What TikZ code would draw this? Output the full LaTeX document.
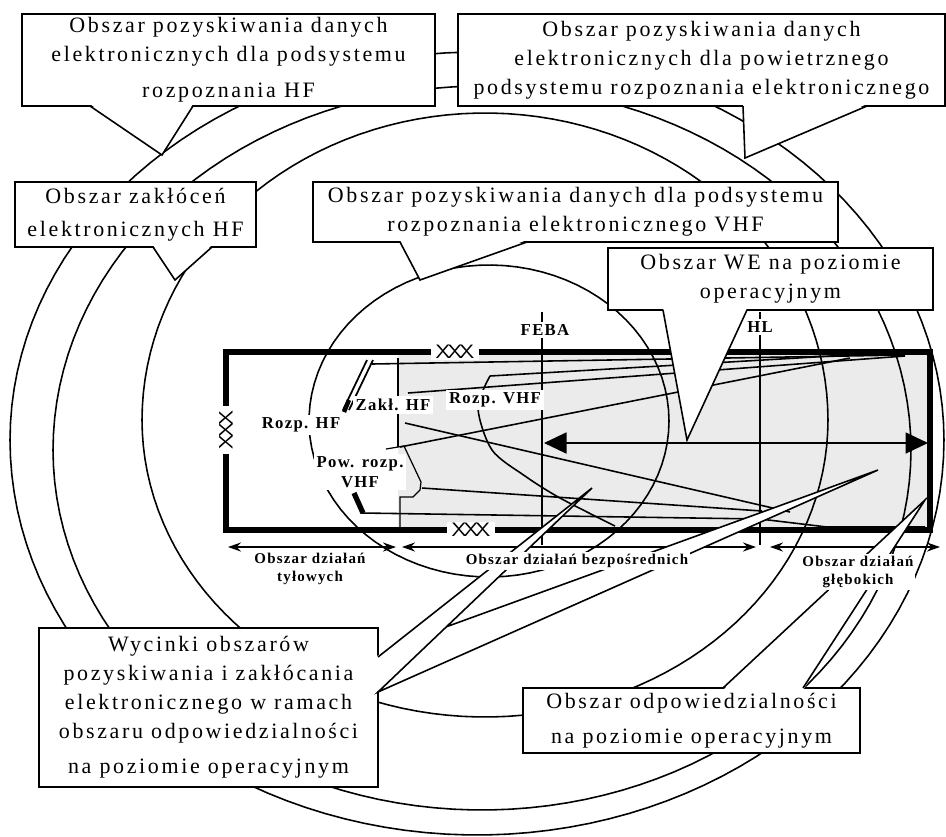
\documentclass[tikz,border=0pt]{standalone}
\usepackage{fontspec}
\setmainfont{Liberation Serif}
\newfontfamily\boxfont[LetterSpace=12]{Liberation Serif}
\newfontfamily\tagfont[LetterSpace=8]{Liberation Serif}
\usetikzlibrary{arrows.meta,calc}

\begin{document}
\begin{tikzpicture}[x=0.2mm,y=-0.2mm,
    arc/.style={line width=0.9pt},
    wedge/.style={line width=0.9pt},
    border/.style={line width=3.4pt},
    areabox/.style={draw,line width=0.9pt,fill=white,inner sep=0pt,outer sep=0pt,
      align=center,font=\boxfont\fontsize{12.5}{16.5}\selectfont},
    tag/.style={fill=white,inner sep=1.5pt,align=center,
      font=\tagfont\bfseries\fontsize{9.5}{11}\selectfont},
    zone/.style={fill=white,inner sep=1pt,align=center,
      font=\tagfont\bfseries\fontsize{8.5}{10.5}\selectfont},
    gap/.style={fill=white,inner xsep=2.5pt,inner ysep=1pt,font=\sffamily\fontsize{11}{11}\selectfont},
    span/.style={line width=1pt,{Stealth[length=2.6mm,width=1.8mm]}-{Stealth[length=2.6mm,width=1.8mm]}},
    reach/.style={line width=1pt,{Triangle[length=4.5mm,width=4.2mm]}-{Triangle[length=4.5mm,width=4.2mm]}}]
    \useasboundingbox (0,0) rectangle (946,836);

    % Shaded part of the operational area
    \fill[black!8] (398,352) rectangle (930,530);

    % Areas of the subsystems
    \draw[arc] plot[domain=0:180,samples=72] ({477+467*cos(\x)},{440-388*sin(\x)})
      -- plot[domain=180:360,samples=72] ({477+467*cos(\x)},{440-395*sin(\x)}) -- cycle;
    \draw[arc] plot[domain=0:180,samples=72] ({482+429*cos(\x)},{450-364*sin(\x)})
      -- plot[domain=180:360,samples=72] ({482+429*cos(\x)},{450-360*sin(\x)}) -- cycle;
    \draw[arc] plot[domain=0:180,samples=72] ({485+343*cos(\x)},{420-307*sin(\x)})
      -- plot[domain=180:360,samples=72] ({485+343*cos(\x)},{420-297*sin(\x)}) -- cycle;
    \draw[arc] plot[domain=0:360,samples=90] ({489+180*cos(\x)},{421-156*sin(\x)});

    % Sectors from the sensors
    \draw[wedge] (372,364) -- (905,355);
    \draw[wedge] (408,393) -- (905,356);
    \draw[wedge] (400,447) -- (850,358);
    \draw[wedge] (405,423) -- (790,512);
    \draw[wedge] (422,488) -- (762,511);
    \draw[wedge] (362,513) -- (760,519) -- (827,527) -- (925,527);
    \draw[wedge] (490,376) -- (900,352);
    \draw[wedge] plot[smooth] coordinates {(490,376) (478,408) (492,450) (525,476) (560,498) (615,526)};

    % Boundary of the rear area
    \draw[line width=0.7pt] (398,358) -- (398,447);
    \draw[line width=0.7pt] (386,449) -- (404,446) -- (421,482) -- (420,490) -- (413,497) -- (400,497) -- (400,529);

    % FEBA and HL
    \draw[line width=0.8pt] (542,312) -- (542,545);
    \draw[line width=0.8pt] (760,312) -- (760,545);

    % Operational area
    \draw[border] (226,352) rectangle (930,530);

    % Sensors
    \draw[line width=1pt] (367,360) -- (343,410);
    \draw[line width=1pt] (373,360) -- (349,410);
    \draw[line width=2.5pt] (349,400) -- (344,412);
    \draw[line width=3pt] (354,493) -- (363,513);

    % Range of EW
    \draw[reach] (544,443) -- (928,443);

    % Depth of the zones
    \draw[span] (228,547) -- (396,547);
    \draw[span] (402,547) -- (756,547);
    \draw[span] (770,547) -- (940,547);

    % Callout boxes
    \node[areabox,minimum width=82.6mm,minimum height=18.4mm] (hfbox) at (228.5,60)
      {Obszar pozyskiwania danych\\elektronicznych dla podsystemu\\[4pt]rozpoznania HF};
    \node[areabox,minimum width=97.4mm,minimum height=18.4mm] (airbox) at (701.5,60)
      {Obszar pozyskiwania danych\\elektronicznych dla powietrznego\\podsystemu rozpoznania elektronicznego};
    \node[areabox,minimum width=48.2mm,minimum height=13mm] (jambox) at (135.5,214.5)
      {Obszar zakłóceń\\[2pt]elektronicznych HF};
    \node[areabox,minimum width=105mm,minimum height=12mm] (vhfbox) at (575.5,212)
      {Obszar pozyskiwania danych dla podsystemu\\rozpoznania elektronicznego VHF};
    \node[areabox,minimum width=65mm,minimum height=12.4mm] (webox) at (770.5,279)
      {Obszar WE na poziomie\\operacyjnym};
    \node[areabox,minimum width=67.8mm,minimum height=31.8mm] (secbox) at (208.5,707.5)
      {Wycinki obszarów\\pozyskiwania i zakłócania\\elektronicznego w ramach\\obszaru odpowiedzialności\\[3.5pt]na poziomie operacyjnym};
    \node[areabox,minimum width=67.4mm,minimum height=13mm] (respbox) at (691.5,720.5)
      {Obszar odpowiedzialności\\[3.5pt]na poziomie operacyjnym};

    % Pointers of the boxes
    \coordinate (hftip) at (162,155);
    \fill[white] ($(hfbox.south west)+(68,-2)$) -- (hftip) -- ($(hfbox.south west)+(171,-2)$) -- cycle;
    \draw[arc] ($(hfbox.south west)+(68,0)$) -- (hftip) -- ($(hfbox.south west)+(171,0)$);

    \coordinate (jamtip) at (175,280);
    \fill[white] ($(jambox.south west)+(138,-2)$) -- (jamtip) -- ($(jambox.south west)+(197,-2)$) -- cycle;
    \draw[arc] ($(jambox.south west)+(138,0)$) -- (jamtip) -- ($(jambox.south west)+(197,0)$);

    \coordinate (vhftip) at (420,280);
    \fill[white] ($(vhfbox.south west)+(87,-2)$) -- (vhftip) -- ($(vhfbox.south west)+(214,-2)$) -- cycle;
    \draw[arc] ($(vhfbox.south west)+(87,0)$) -- (vhftip) -- ($(vhfbox.south west)+(214,0)$);

    \coordinate (airtip) at (745,158);
    \fill[white] ($(airbox.south west)+(285,-2)$) -- (airtip) -- ($(airbox.south west)+(409,-2)$) -- cycle;
    \draw[arc] ($(airbox.south west)+(285,0)$) -- (airtip) -- ($(airbox.south west)+(409,0)$);

    \coordinate (wetip) at (687,440);
    \fill[white] ($(webox.south west)+(55,-2)$) -- (wetip) -- ($(webox.south west)+(139,-2)$) -- cycle;
    \draw[arc] ($(webox.south west)+(55,0)$) -- (wetip) -- ($(webox.south west)+(139,0)$);

    \coordinate (sectip) at (592,488);
    \coordinate (sliver) at (878,470);
    \coordinate (secA) at ($(secbox.north east)+(0,29)$);
    \coordinate (secB) at ($(secbox.north east)+(0,64)$);
    \coordinate (secC) at ($(secB)!0.32!(sectip)$);
    \fill[white] ($(secA)+(-2,0)$) -- (sectip) -- (secC) -- (sliver) -- ($(secB)+(-2,0)$) -- cycle;
    \draw[arc] (secA) -- (sectip) -- (secB) -- (sliver) -- (secC);

    \coordinate (resptip) at (925,500);
    \fill[white] ($(respbox.north west)+(200,2)$) -- (resptip) -- ($(respbox.north west)+(280,2)$) -- cycle;
    \draw[arc] ($(respbox.north west)+(200,0)$) -- (resptip) -- ($(respbox.north west)+(280,0)$);

    % Gaps in the border
    \node[gap] (gaptop) at (455,352) {\scalebox{1.2}[1]{X\kern-1.5pt X\kern-1.5pt X}};
    \node[gap,rotate=90] (gapleft) at (226,430) {\scalebox{1.2}[1]{X\kern-1.5pt X\kern-1.5pt X}};
    \node[gap] (gapbottom) at (471,530) {\scalebox{1.2}[1]{X\kern-1.5pt X\kern-1.5pt X}};

    % Sensor and line labels
    \node[tag] (rozphf) at (301,425) {Rozp. HF};
    \node[tag] (zaklhf) at (393,405) {Zakł. HF};
    \node[tag] (rozpvhf) at (495,400) {Rozp. VHF};
    \node[tag] (powrozp) at (360,472) {Pow. rozp.\\VHF};
    \node[tag] (feba) at (545,330) {FEBA};
    \node[tag] (hl) at (760,327) {HL};

    % Zone labels
    \node[zone] (rear) at (310,569) {Obszar działań\\tyłowych};
    \node[zone] (close) at (577,561) {Obszar działań bezpośrednich};
    \node[zone] (deep) at (858,572) {Obszar działań\\głębokich};
\end{tikzpicture}
\end{document}
